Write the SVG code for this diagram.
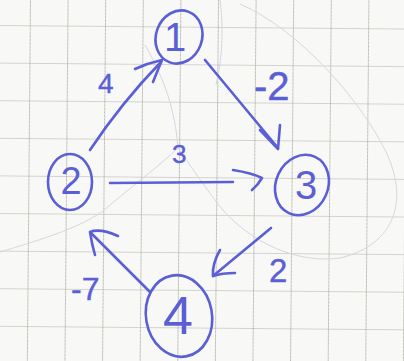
<svg xmlns="http://www.w3.org/2000/svg" width="404" height="361" viewBox="0 0 404 361">
<defs>
<pattern id="grid" width="37.6" height="37.6" patternUnits="userSpaceOnUse" patternTransform="rotate(0.5) translate(30 25)">
<line x1="0" y1="0" x2="37.6" y2="0" stroke="#c7c7bf" stroke-width="1.6"/>
<line x1="0" y1="0" x2="0" y2="37.6" stroke="#c7c7bf" stroke-width="1.4"/>
<line x1="0" y1="0" x2="0" y2="37.6" stroke="#8e8e88" stroke-width="0.8" stroke-dasharray="1.5 2"/>
</pattern>
<style>
.pen{fill:none;stroke:#5b5fd6;stroke-width:2.6;stroke-linecap:round;stroke-linejoin:round}
.node{fill:none;stroke:#5b5fd6;stroke-width:2.6}
.num{font-family:"Liberation Sans",Arial,sans-serif;fill:#5b5fd6;text-anchor:middle}
.lab{font-family:"Liberation Sans",Arial,sans-serif;fill:#5b5fd6;stroke:#5b5fd6;stroke-width:0.4}
.faint{fill:none;stroke:#d6d7e2;stroke-width:1}
</style>
</defs>
<rect width="404" height="361" fill="#f8f8f6"/>
<rect width="404" height="361" fill="url(#grid)"/>
<g id="pencil">
<path class="faint" d="M 240 4 C 300 30 360 100 385 150 C 410 200 395 245 340 258 C 290 265 240 235 215 200 C 200 180 190 165 178 148"/>
<path class="faint" d="M 0 252 C 40 240 90 225 110 205 C 140 180 160 165 178 148 C 175 110 165 80 145 45"/>
<path class="faint" d="M 220 0 C 224 30 222 60 216 85"/>
</g>
<g id="connectors">
<path class="pen" d="M 90 150 Q 122 102 161 62"/>
<path class="pen" d="M 135 69 Q 148 63 162 60 Q 157 72 153 82"/>
<path class="pen" d="M 205 60 L 278 148"/>
<path class="pen" d="M 260 130 L 278 149 L 280 125"/>
<path class="pen" d="M 110 183 L 233 182"/>
<path class="pen" d="M 233 170 Q 252 173 262 178 Q 258 185 252 190"/>
<path class="pen" d="M 271 228 L 213 276"/>
<path class="pen" d="M 220 250 Q 212 264 213 276 Q 222 273 235 273"/>
<path class="pen" d="M 150 292 Q 120 262 91 233"/>
<path class="pen" d="M 118 236 Q 100 228 90 232 Q 92 245 95 255"/>
<text class="lab" x="98" y="93" font-size="28">4</text>
<text class="lab" x="254" y="100" font-size="40">-2</text>
<text class="lab" x="172" y="163" font-size="26">3</text>
<text class="lab" x="269" y="282" font-size="33">2</text>
<text class="lab" x="71" y="300" font-size="32">-7</text>
</g>
<g id="node1">
<ellipse class="node" cx="179" cy="37" rx="23" ry="27" transform="rotate(20 179 37)"/>
<text class="num" x="175" y="51" font-size="40">1</text>
</g>
<g id="node2">
<ellipse class="node" cx="70" cy="182" rx="22" ry="28"/>
<text class="num" x="71" y="194" font-size="38">2</text>
</g>
<g id="node3">
<ellipse class="node" cx="302" cy="185" rx="26" ry="31" transform="rotate(25 302 185)"/>
<text class="num" x="306" y="199" font-size="40">3</text>
</g>
<g id="node4">
<ellipse class="node" cx="179" cy="316" rx="33" ry="41" transform="rotate(-10 179 316)"/>
<text class="num" x="178" y="334" font-size="54">4</text>
</g>
</svg>
